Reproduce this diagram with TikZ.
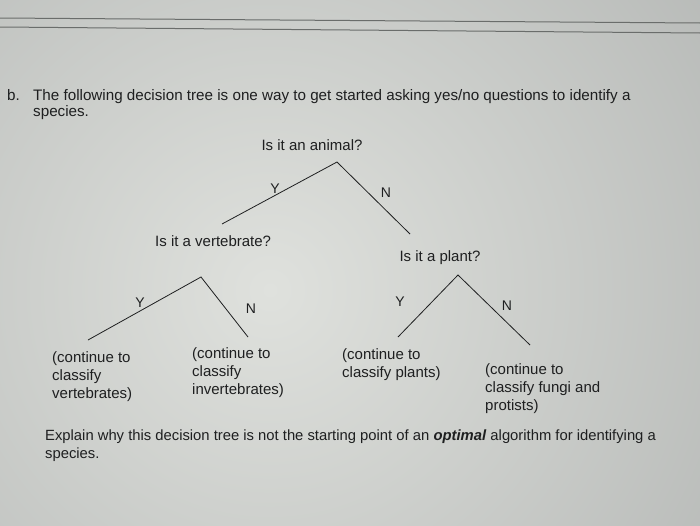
\documentclass[tikz,border=0pt]{standalone}
\usepackage{fontspec}
\setmainfont{Liberation Sans}
\definecolor{bgL}{HTML}{DFE1DD}
\definecolor{bgR}{HTML}{9C9F9E}
\definecolor{ink}{HTML}{1E1F20}
\definecolor{rule}{HTML}{6A6D6B}
\begin{document}
\begin{tikzpicture}[x=1pt,y=-1pt,
  para/.style={font=\fontsize{15.2}{16}\selectfont, text=ink, inner sep=0pt, anchor=base west, align=left},
  txt/.style={font=\fontsize{15}{18.3}\selectfont, text=ink, inner sep=0pt},
  leaf/.style={txt, anchor=north west, align=left},
  yn/.style={font=\fontsize{14}{15}\selectfont, text=ink, inner sep=0pt},
  branch/.style={draw=ink, line width=0.8pt},
  rulel/.style={draw=rule, line width=1pt}]
\useasboundingbox (0,0) rectangle (700,525);
\begin{scope}
\clip (0,0) rectangle (700,525);
\shade[inner color=bgL, outer color=bgR] (270,290) circle (920);
\end{scope}
% top rules
\coordinate (r1a) at (0,18); \coordinate (r1b) at (700,23);
\coordinate (r2a) at (0,27); \coordinate (r2b) at (700,33);
\draw[rulel] (r1a) -- (r1b);
\draw[rulel] (r2a) -- (r2b);
% heading
\node[para] (bmark) at (7,100) {b.};
\node[para] (intro) at (33,116) {The following decision tree is one way to get started asking yes/no questions to identify a\\species.};
% root
\node[txt] (animal) at (312,145) {Is it an animal?};
\coordinate (a0) at (337,162);
\coordinate (aL) at (222,224);
\coordinate (aR) at (410,234);
\draw[branch] (aL) -- (a0) -- (aR);
\node[yn] (y1) at (275,189) {Y};
\node[yn] (n1) at (386,193) {N};
% vertebrate
\node[txt, anchor=west] (vert) at (155,241) {Is it a vertebrate?};
\coordinate (v0) at (201,277);
\coordinate (vL) at (88,340);
\coordinate (vR) at (248,337);
\draw[branch] (vL) -- (v0) -- (vR);
\node[yn] (y2) at (140,303) {Y};
\node[yn] (n2) at (251,309) {N};
\node[leaf] (cv) at (52,351) {(continue to\\classify\\vertebrates)};
\node[leaf] (ci) at (192,347) {(continue to\\classify\\invertebrates)};
% plant
\node[txt] (plant) at (440,258) {Is it a plant?};
\coordinate (p0) at (458,275);
\coordinate (pL) at (398,337);
\coordinate (pR) at (530,345);
\draw[branch] (pL) -- (p0) -- (pR);
\node[yn] (y3) at (400,302) {Y};
\node[yn] (n3) at (507,306) {N};
\node[leaf] (cp) at (342,348) {(continue to\\classify plants)};
\node[leaf] (cf) at (485,363) {(continue to\\classify fungi and\\protists)};
% question
\node[para, font=\fontsize{14.8}{18}\selectfont] (explain) at (45,458) {Explain why this decision tree is not the starting point of an \textbf{\textit{optimal}} algorithm for identifying a\\species.};
\end{tikzpicture}
\end{document}
